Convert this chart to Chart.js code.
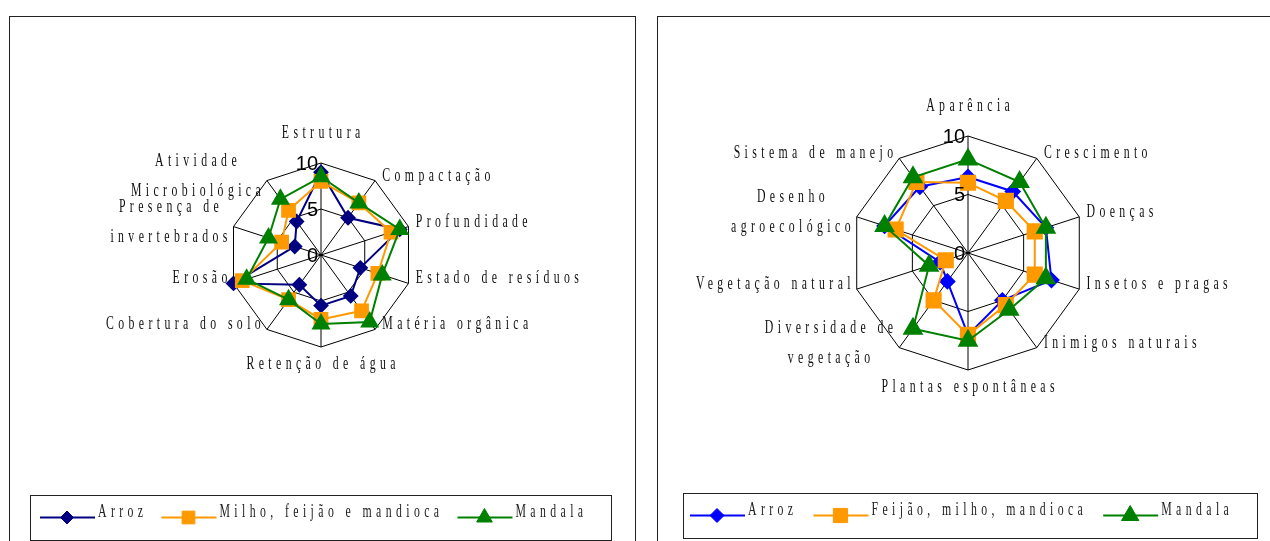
<!DOCTYPE html>
<html>
<head>
<meta charset="utf-8">
<script src="https://cdn.jsdelivr.net/npm/chart.js@4.4.0/dist/chart.umd.min.js"></script>
<style>
body { margin: 0; background: #fff; width: 1270px; height: 541px; overflow: hidden; position: relative; }
.box { position: absolute; border: 1px solid #222; box-sizing: border-box; background: #fff; }
#b1 { left: 9px; top: 16px; width: 627px; height: 540px; }
#b2 { left: 657px; top: 16px; width: 630px; height: 540px; }
canvas { display: block; }
</style>
</head>
<body>
<div class="box" id="b1"><canvas id="c1"></canvas></div>
<div class="box" id="b2"><canvas id="c2"></canvas></div>
<script>
// solo (left)
var soilLabels = ['Estrutura', 'Compactação', 'Profundidade', 'Estado de resíduos', 'Matéria orgânica',
    'Retenção de água', 'Cobertura do solo', 'Erosão', ['Presença de', 'invertebrados'], ['Atividade', 'Microbiológica']];
var soilArroz = [9, 5, 9, 4.5, 5.5, 5.5, 4, 10, 3, 4.5];
var soilMilho = [8, 7, 8, 6.5, 7.5, 7, 6, 9, 4.5, 6];
var soilMandala = [8.5, 7, 9, 7, 9, 7.5, 6, 8.5, 6, 7.5];
var soilNames = ['Arroz', 'Milho, feijão e mandioca', 'Mandala'];

// cultivo (right)
var cropLabels = ['Aparência', 'Crescimento', 'Doenças', 'Insetos e pragas', 'Inimigos naturais',
    'Plantas espontâneas', ['Diversidade de', 'vegetação'], 'Vegetação natural', ['Desenho', 'agroecológico'], 'Sistema de manejo'];
var cropArroz = [6.5, 6.5, 7, 7.5, 5, 7, 3, 2.5, 7.5, 7];
var cropFeijao = [6, 5.5, 6, 6, 5.5, 7, 5, 2, 6.5, 7.5];
var cropMandala = [8, 7.5, 7, 7, 6, 7.5, 8, 3.5, 7.5, 8];
var cropNames = ['Arroz', 'Feijão, milho, mandioca', 'Mandala'];

var tickValues = [0, 5, 10];

// narrow, widely spaced serif like the original export
var TXT = { size: 19, sx: 0.62, gap: 4.4 };

function setTextStyle(ctx) {
    ctx.font = TXT.size + 'px "Liberation Serif"';
    ctx.letterSpacing = (TXT.gap / TXT.sx) + 'px';
    ctx.textBaseline = 'middle';
}
function textWidth(ctx, t) {
    return ctx.measureText(t).width * TXT.sx;
}
function drawText(ctx, t, x, y, align) {
    ctx.save();
    ctx.translate(x, y);
    ctx.scale(TXT.sx, 1);
    ctx.textAlign = align;
    ctx.fillText(t, 0, 0);
    ctx.restore();
}

// axis labels beside each spoke end
var labelPlugin = {
    id: 'spokeLabels',
    beforeDatasetsDraw: function (chart) {
        var ctx = chart.ctx, scale = chart.scales.r;
        ctx.save();
        setTextStyle(ctx);
        ctx.fillStyle = '#111';
        chart.data.labels.forEach(function (label, i) {
            var lines = Array.isArray(label) ? label : [label];
            var p = scale.getPointPosition(i, scale.drawingArea);
            var a = scale.getIndexAngle(i);
            var s = Math.sin(a);
            var bw = Math.max.apply(null, lines.map(function (l) { return textWidth(ctx, l); }));
            var cx, cy;
            if (Math.abs(s) < 0.01) {
                cx = p.x;
                cy = p.y + (Math.cos(a) > 0 ? -30 : 17);
            } else {
                cx = s > 0 ? p.x + 5 + bw / 2 : p.x - 4 - bw / 2;
                cy = p.y - 5;
            }
            var lh = 30;
            var y0 = cy - (lines.length - 1) * lh / 2;
            lines.forEach(function (l, k) {
                drawText(ctx, l, cx + TXT.gap / 2, y0 + k * lh, 'center');
            });
        });
        ctx.restore();
    }
};

// tick numbers drawn just left of the vertical axis
var tickPlugin = {
    id: 'tickNums',
    afterDraw: function (chart) {
        var ctx = chart.ctx, scale = chart.scales.r;
        ctx.save();
        ctx.font = '20px "Liberation Sans"';
        ctx.fillStyle = '#000';
        ctx.textAlign = 'right';
        ctx.textBaseline = 'middle';
        tickValues.forEach(function (v) {
            var p = scale.getPointPositionForValue(0, v);
            ctx.fillText(String(v), p.x - 3, p.y + 1);
        });
        ctx.restore();
    }
};

// boxed legend with line + marker samples
var legendPlugin = {
    id: 'boxLegend',
    afterDraw: function (chart, args, opts) {
        var ctx = chart.ctx;
        ctx.save();
        ctx.strokeStyle = '#222';
        ctx.lineWidth = 1;
        ctx.strokeRect(opts.x + 0.5, opts.y + 0.5, opts.w, opts.h);
        setTextStyle(ctx);
        var x = opts.x + opts.pad;
        var y = opts.y + opts.h / 2;
        chart.data.datasets.forEach(function (ds) {
            ctx.strokeStyle = ds.borderColor;
            ctx.fillStyle = ds.borderColor;
            ctx.lineWidth = 2;
            ctx.beginPath();
            ctx.moveTo(x, y);
            ctx.lineTo(x + 55, y);
            ctx.stroke();
            ctx.lineWidth = 1;
            Chart.helpers.drawPoint(ctx, {
                pointStyle: ds.pointStyle, radius: ds.pointRadius, rotation: 0, borderWidth: 1
            }, x + 27, y);
            ctx.fillStyle = '#222';
            drawText(ctx, ds.label, x + 58, y - 5, 'left');
            x += 58 + textWidth(ctx, ds.label) + opts.gap;
        });
        ctx.restore();
    }
};

function makeSet(label, data, color, style, r, order) {
    return {
        label: label, data: data, order: order,
        borderColor: color, backgroundColor: color,
        pointBackgroundColor: color, pointBorderColor: color,
        borderWidth: 2, pointStyle: style, pointRadius: r, pointHoverRadius: r,
        fill: false
    };
}

function makeChart(id, labels, sets, pad, legend) {
    return new Chart(document.getElementById(id), {
        type: 'radar',
        data: { labels: labels, datasets: sets },
        options: {
            responsive: true,
            maintainAspectRatio: false,
            animation: false,
            layout: { padding: pad },
            plugins: {
                legend: { display: false },
                tooltip: { enabled: false },
                boxLegend: legend
            },
            scales: {
                r: {
                    min: 0, max: 10,
                    ticks: { display: false, stepSize: 5 },
                    grid: { color: '#000', lineWidth: 1 },
                    angleLines: { color: '#000', lineWidth: 1 },
                    pointLabels: { display: false }
                }
            }
        },
        plugins: [labelPlugin, tickPlugin, legendPlugin]
    });
}

makeChart('c1', soilLabels, [
    makeSet(soilNames[0], soilArroz, '#000080', 'rectRot', 6.5, 2),
    makeSet(soilNames[1], soilMilho, '#FF9900', 'rect', 9, 1),
    makeSet(soilNames[2], soilMandala, '#008000', 'triangle', 9, 0)
], { left: 161, right: 164, top: 146, bottom: 208 },
    { x: 20, y: 478, w: 581, h: 45, pad: 10, gap: 14 });

makeChart('c2', cropLabels, [
    makeSet(cropNames[0], cropArroz, '#0000FF', 'rectRot', 7, 2),
    makeSet(cropNames[1], cropFeijao, '#FF9900', 'rect', 10, 1),
    makeSet(cropNames[2], cropMandala, '#008000', 'triangle', 10, 0)
], { left: 160, right: 168, top: 119, bottom: 185 },
    { x: 25, y: 476, w: 574, h: 45, pad: 7, gap: 16 });
</script>
</body>
</html>
